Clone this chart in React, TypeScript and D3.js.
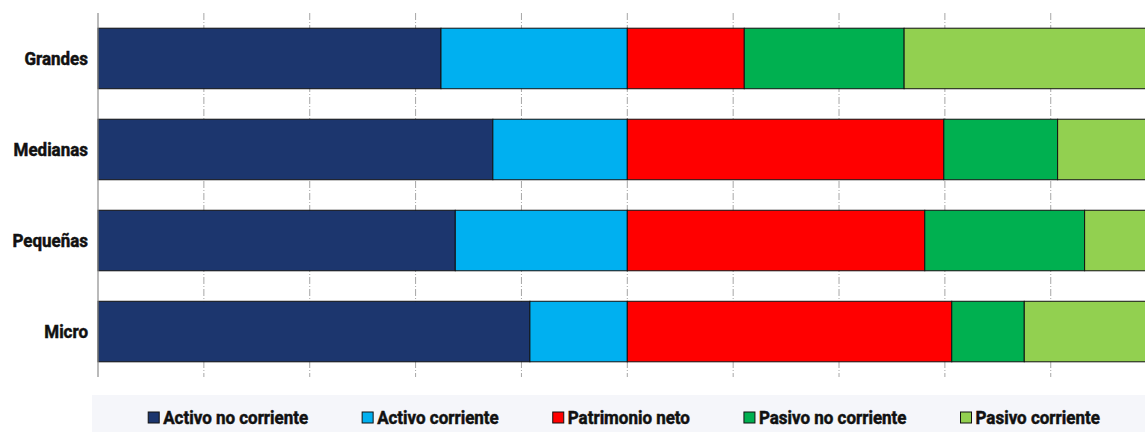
import React, { useEffect, useRef } from "react";
import * as d3 from "d3";

const categories = ["Grandes", "Medianas", "Pequeñas", "Micro"];
const seriesNames = [
  "Activo no corriente",
  "Activo corriente",
  "Patrimonio neto",
  "Pasivo no corriente",
  "Pasivo corriente",
];
const activoNoCorriente = [64.8, 74.6, 67.5, 81.6];
const activoCorriente = [35.2, 25.4, 32.5, 18.4];
const patrimonioNeto = [22.1, 59.8, 56.2, 61.3];
const pasivoNoCorriente = [30.2, 21.5, 30.2, 13.7];
const pasivoCorriente = [47.7, 18.7, 13.6, 25.0];
const colors = ["#1c366e", "#00b0f0", "#ff0000", "#00b050", "#92d050"];
const gridTicks = [0, 20, 40, 60, 80, 100, 120, 140, 160, 180, 200];

const W = 1145;
const H = 432;
const FONT = "Roboto, 'Liberation Sans', sans-serif";
const FS = 18;

export default function App() {
  const ref = useRef<SVGSVGElement>(null);

  useEffect(() => {
    const svg = d3.select(ref.current);
    svg.selectAll("*").remove();

    const x = d3.scaleLinear().domain([0, 200]).range([98, 1156.6]);
    const y = d3.scaleBand().domain(categories).range([13, 377]).paddingInner(0.335).paddingOuter(0.167);

    const seriesData = [activoNoCorriente, activoCorriente, patrimonioNeto, pasivoNoCorriente, pasivoCorriente];
    const rows = categories.map((c, i) => {
      const o: any = { cat: c };
      seriesNames.forEach((s, j) => (o[s] = seriesData[j][i]));
      return o;
    });
    const stacked = d3.stack().keys(seriesNames)(rows);

    // measure condensing factor
    const probe = svg
      .append("text")
      .attr("font-family", FONT)
      .attr("font-weight", "bold")
      .attr("font-size", FS)
      .text(seriesNames[0]);
    const probeW = (probe.node() as SVGTextElement).getComputedTextLength();
    probe.remove();
    const k = probeW > 0 ? 145 / probeW : 1;

    // gridlines
    svg
      .append("g")
      .selectAll("line")
      .data(gridTicks.slice(1))
      .join("line")
      .attr("x1", (d) => x(d))
      .attr("x2", (d) => x(d))
      .attr("y1", 13)
      .attr("y2", 377)
      .attr("stroke", "#a6a6a6")
      .attr("stroke-width", 1)
      .attr("stroke-dasharray", "7,2,1,2");

    // bars
    const g = svg.append("g");
    stacked.forEach((s, j) => {
      g.append("g")
        .attr("fill", colors[j])
        .selectAll("rect")
        .data(s)
        .join("rect")
        .attr("x", (d) => x(d[0]))
        .attr("width", (d) => x(d[1]) - x(d[0]))
        .attr("y", (d: any) => y(d.data.cat)!)
        .attr("height", y.bandwidth())
        .attr("stroke", "#111")
        .attr("stroke-width", 1);
    });

    // axis line
    svg
      .append("line")
      .attr("x1", x(0))
      .attr("x2", x(0))
      .attr("y1", 13)
      .attr("y2", 377)
      .attr("stroke", "#8c8c8c")
      .attr("stroke-width", 1.2);

    // category labels
    svg
      .append("g")
      .selectAll("text")
      .data(categories)
      .join("text")
      .attr("transform", (d) => `translate(88,${y(d)! + y.bandwidth() / 2}) scale(${k},1)`)
      .attr("dy", "0.35em")
      .attr("text-anchor", "end")
      .attr("font-family", FONT)
      .attr("font-weight", "bold")
      .attr("font-size", FS)
      .attr("fill", "#111")
      .attr("stroke", "#111")
      .attr("stroke-width", 0.5)
      .text((d) => d);

    // legend
    svg
      .append("rect")
      .attr("x", 92)
      .attr("y", 395)
      .attr("width", W - 92)
      .attr("height", H - 395)
      .attr("fill", "#f5f6fa");

    const lg = svg.append("g");
    const items = lg.selectAll("g").data(seriesNames).join("g");
    items
      .append("rect")
      .attr("width", 11)
      .attr("height", 11)
      .attr("y", 412)
      .attr("fill", (_, i) => colors[i])
      .attr("stroke", "#111")
      .attr("stroke-width", 1);
    items
      .append("text")
      .attr("transform", `translate(15,423.5) scale(${k},1)`)
      .attr("font-family", FONT)
      .attr("font-weight", "bold")
      .attr("font-size", FS)
      .attr("fill", "#111")
      .attr("stroke", "#111")
      .attr("stroke-width", 0.5)
      .text((d) => d);
    const widths: number[] = [];
    items.each(function () {
      const t = (this as SVGGElement).querySelector("text") as SVGTextElement;
      widths.push(15 + t.getComputedTextLength() * k);
    });
    const gap = 54;
    const total = d3.sum(widths) + gap * (widths.length - 1);
    let cx = 624 - total / 2;
    items.each(function (_, i) {
      d3.select(this).attr("transform", `translate(${cx},0)`);
      cx += widths[i] + gap;
    });
  }, []);

  return (
    <div style={{ position: "fixed", left: 0, top: 0, width: W, height: H, background: "#fff" }}>
      <svg ref={ref} width={W} height={H} style={{ display: "block" }} />
    </div>
  );
}
